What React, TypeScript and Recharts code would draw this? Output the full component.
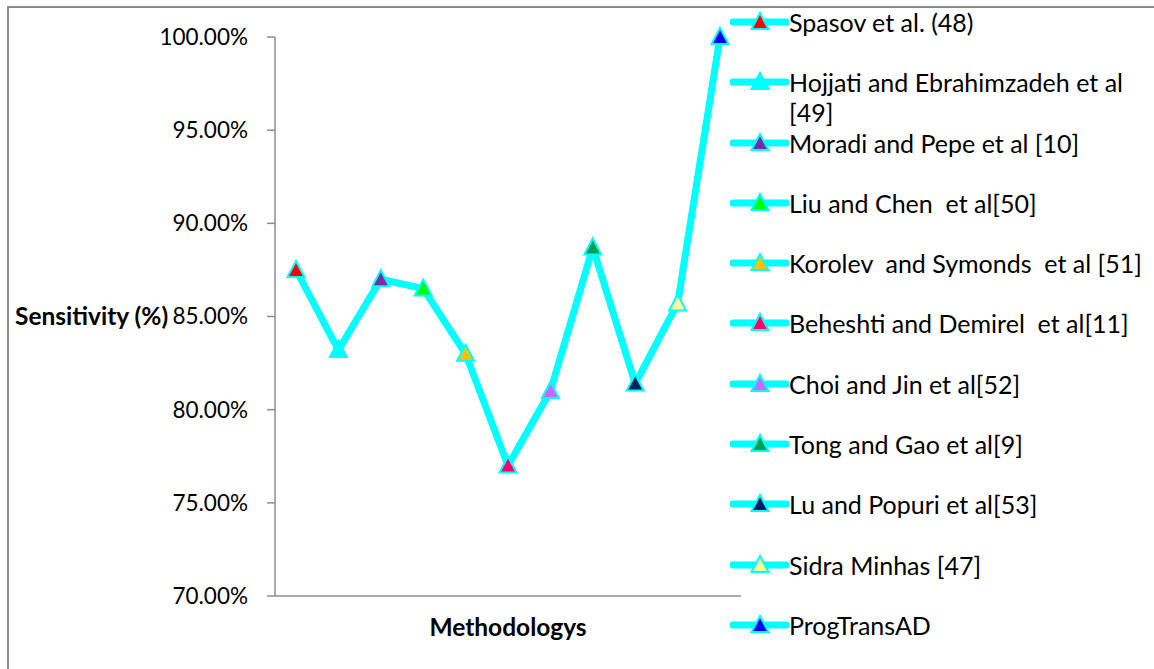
import React from 'react';
import { LineChart, Line, XAxis, YAxis, Legend } from 'recharts';

const methods = [
  'Spasov et al. (48)',
  'Hojjati and Ebrahimzadeh et al [49]',
  'Moradi and Pepe et al [10]',
  'Liu and Chen  et al[50]',
  'Korolev  and Symonds  et al [51]',
  'Beheshti and Demirel  et al[11]',
  'Choi and Jin et al[52]',
  'Tong and Gao et al[9]',
  'Lu and Popuri et al[53]',
  'Sidra Minhas [47]',
  'ProgTransAD',
];
const sensitivity = [87.5, 83.2, 87.0, 86.5, 83.0, 77.0, 81.0, 88.7, 81.4, 85.7, 100];
const markerColors = [
  '#ff0000', '#00ffff', '#7030a0', '#00ff00', '#ffc000', '#ff0066',
  '#cc66ff', '#00a050', '#002060', '#ffff99', '#0000ff',
];
const yTicks = [70, 75, 80, 85, 90, 95, 100];

const data = methods.map((name, i) => ({ name, value: sensitivity[i], color: markerColors[i] }));

const LINE = '#00ffff';
const AXIS = '#8c8c8c';
const FONT = 'Lato, "Open Sans", sans-serif';

function Triangle({ cx, cy, fill }: { cx: number; cy: number; fill: string }) {
  return (
    <polygon
      points={`${cx},${cy - 9} ${cx - 8.5},${cy + 7} ${cx + 8.5},${cy + 7}`}
      fill={fill}
      stroke={LINE}
      strokeWidth={2}
    />
  );
}

function renderDot(props: any) {
  const { cx, cy, index } = props;
  return <Triangle key={`dot-${index}`} cx={cx} cy={cy} fill={markerColors[index]} />;
}

function LegendList() {
  return (
    <div style={{ fontFamily: FONT, fontSize: 25, color: '#000' }}>
      {data.map((d) => (
        <div key={d.name} style={{ display: 'flex', alignItems: 'flex-start', height: 60.3 }}>
          <svg width={59} height={30} style={{ flex: 'none' }}>
            <line x1={3} y1={15} x2={56} y2={15} stroke={LINE} strokeWidth={7} strokeLinecap="round" />
            <Triangle cx={30} cy={15} fill={d.color} />
          </svg>
          <span style={{ lineHeight: '30px', width: 355, whiteSpace: 'pre-wrap' }}>{d.name}</span>
        </div>
      ))}
    </div>
  );
}

export default function App() {
  return (
    <div style={{ position: 'absolute', left: 0, top: 0, width: 1154, height: 669, background: '#fff', fontFamily: FONT, overflow: 'hidden' }}>
      <div style={{ position: 'absolute', left: 7, top: 6, width: 1160, height: 680, borderTop: `2px solid ${AXIS}`, borderLeft: `2px solid ${AXIS}` }} />
      <LineChart
        width={1154}
        height={669}
        data={data}
        margin={{ top: 37, right: 413, bottom: 11, left: 0 }}
        style={{ position: 'absolute', left: 0, top: 0 }}
      >
        <XAxis
          dataKey="name"
          height={62}
          tick={false}
          tickLine={false}
          axisLine={{ stroke: AXIS, strokeWidth: 1.5 }}
          padding={{ left: 21, right: 21 }}
          label={{ value: 'Methodologys', position: 'center', style: { fontWeight: 700, fontSize: 24.5, fill: '#000', fontFamily: FONT } }}
        />
        <YAxis
          width={275}
          domain={[70, 100]}
          ticks={yTicks}
          tickSize={8}
          tickMargin={19}
          tickFormatter={(v: number) => `${v.toFixed(2)}%`}
          tick={{ fill: '#000', fontSize: 22.5, fontFamily: FONT }}
          tickLine={{ stroke: AXIS, strokeWidth: 1.5 }}
          axisLine={{ stroke: AXIS, strokeWidth: 1.5 }}
          label={{ value: 'Sensitivity (%)', position: 'insideLeft', offset: 15, style: { fontWeight: 700, fontSize: 24.5, fill: '#000', fontFamily: FONT, textAnchor: 'start' } }}
        />
        <Legend
          layout="vertical"
          align="center"
          verticalAlign="middle"
          content={() => <LegendList />}
          wrapperStyle={{ position: 'absolute', left: 730, top: 7, width: 424 }}
        />
        <Line
          type="linear"
          dataKey="value"
          stroke={LINE}
          strokeWidth={7}
          dot={renderDot}
          activeDot={false}
          isAnimationActive={false}
        />
      </LineChart>
    </div>
  );
}
